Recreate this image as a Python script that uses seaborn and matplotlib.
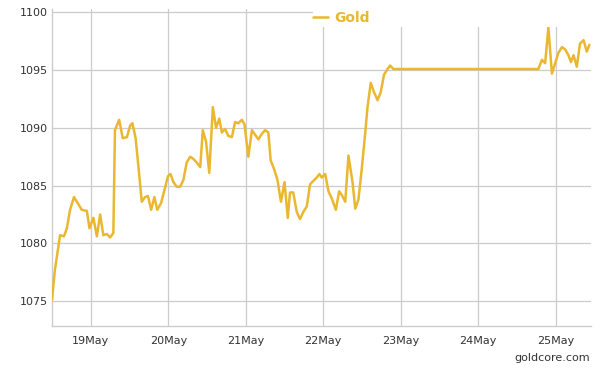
# Gold spot price, 18-25 May (goldcore.com style chart)

import pandas as pd
import matplotlib
matplotlib.use("Agg")
import matplotlib.pyplot as plt
import matplotlib.dates as mdates
from matplotlib.patches import Rectangle
import seaborn as sns

# --- Data (hours since 18 May 00:00, price in USD/oz) ---
HOURS = [
    12.0, 12.9, 14.5, 15.7, 16.6, 17.6, 18.8, 19.7, 21.2, 22.8,
    23.6, 24.8, 25.9, 26.9, 27.9, 29.0, 30.0, 31.0, 31.5, 32.8,
    33.9, 35.2, 36.2, 36.9, 37.9, 38.7, 39.8, 40.8, 41.7, 42.7,
    43.7, 44.6, 45.8, 46.8, 47.9, 48.7, 49.6, 50.6, 51.7, 52.7,
    53.7, 54.8, 55.8, 56.8, 57.9, 58.7, 59.7, 60.7, 61.8, 62.8,
    63.8, 64.6, 65.6, 66.6, 67.7, 68.7, 69.7, 70.8, 71.6, 72.8,
    73.9, 74.9, 75.9, 77.0, 78.0, 79.0, 79.7, 80.8, 81.8, 82.9,
    84.0, 85.0, 85.7, 86.7, 87.8, 88.8, 89.8, 90.9, 91.9, 92.9,
    94.0, 94.8, 95.5, 96.6, 97.6, 98.6, 99.9, 100.9, 101.7, 102.8,
    103.8, 105.1, 105.9, 106.9, 107.9, 109.0, 109.7, 110.7, 111.7, 112.8,
    113.8, 114.8, 115.9, 116.7, 117.7, 162.6, 163.7, 164.7, 165.7, 166.8,
    167.8, 168.8, 169.9, 170.9, 171.9, 172.7, 173.5, 174.5, 175.5, 176.6,
    177.6, 178.4,
]
PRICES = [
    1075.1, 1077.7, 1080.7, 1080.6, 1081.3, 1082.9, 1084.0, 1083.6, 1082.9, 1082.8,
    1081.3, 1082.2, 1080.6, 1082.5, 1080.7, 1080.8, 1080.5, 1080.9, 1089.8, 1090.7,
    1089.1, 1089.2, 1090.2, 1090.4, 1089.1, 1086.8, 1083.6, 1084.0, 1084.1, 1082.9,
    1084.0, 1082.9, 1083.5, 1084.6, 1085.8, 1086.0, 1085.3, 1084.9, 1084.9, 1085.5,
    1087.0, 1087.5, 1087.3, 1087.0, 1086.6, 1089.8, 1088.8, 1086.1, 1091.8, 1090.0,
    1090.8, 1089.6, 1089.9, 1089.3, 1089.2, 1090.5, 1090.4, 1090.7, 1090.3, 1087.5,
    1089.8, 1089.4, 1089.0, 1089.5, 1089.8, 1089.6, 1087.2, 1086.4, 1085.5, 1083.6,
    1085.3, 1082.2, 1084.4, 1084.4, 1082.7, 1082.1, 1082.7, 1083.2, 1085.1, 1085.4,
    1085.7, 1086.0, 1085.7, 1086.0, 1084.5, 1083.9, 1082.9, 1084.5, 1084.2, 1083.6,
    1087.6, 1085.2, 1083.0, 1083.8, 1086.4, 1089.6, 1091.8, 1093.9, 1093.1, 1092.4,
    1093.1, 1094.6, 1095.1, 1095.4, 1095.1, 1095.1, 1095.9, 1095.6, 1098.7, 1094.7,
    1095.6, 1096.5, 1097.0, 1096.8, 1096.3, 1095.7, 1096.3, 1095.3, 1097.3, 1097.6,
    1096.6, 1097.2,
]
Y_TICKS = [1075, 1080, 1085, 1090, 1095, 1100]
SERIES = "Gold"

GOLD = "#EAB830"
GRID = "#CCCCCC"
TEXT = "#333333"

base = pd.Timestamp("2015-05-18")
df = pd.DataFrame({
    "time": base + pd.to_timedelta(HOURS, unit="h"),
    "price": PRICES,
})

sns.set_theme(style="white")
plt.rcParams["font.family"] = ["DejaVu Sans"]

W, H = 605, 370
fig = plt.figure(figsize=(W / 100, H / 100), dpi=100)
ax = fig.add_axes([52 / W, 1 - 326 / H, (591 - 52) / W, (326 - 9) / H])

sns.lineplot(data=df, x="time", y="price", ax=ax, color=GOLD,
             linewidth=1.8, label=SERIES, zorder=3)

ax.set_xlim(base + pd.Timedelta(hours=12), base + pd.Timedelta(hours=178.9))
ax.set_ylim(1072.83, 1100.3)
ax.set_yticks(Y_TICKS)
ax.xaxis.set_major_locator(mdates.DayLocator())
ax.xaxis.set_major_formatter(mdates.DateFormatter("%d%b"))

ax.grid(True, color=GRID, linewidth=0.9)
ax.set_axisbelow(True)
ax.set_xlabel("")
ax.set_ylabel("")
ax.tick_params(axis="both", length=0, labelsize=8, labelcolor=TEXT)
ax.tick_params(axis="x", pad=7)
ax.tick_params(axis="y", pad=3)
for side in ["top", "right"]:
    ax.spines[side].set_visible(False)
for side in ["left", "bottom"]:
    ax.spines[side].set_color(GRID)
    ax.spines[side].set_linewidth(1.0)

# white box behind the legend hides the grid ends at the top right
ax.add_patch(Rectangle((313 / W, 1 - 27 / H), (593 - 313) / W, 27 / H,
                       transform=fig.transFigure, facecolor="white",
                       edgecolor="none", zorder=5, clip_on=False))

leg = ax.legend(loc="center left", bbox_to_anchor=(313 / W, 1 - 18 / H),
                bbox_transform=fig.transFigure, frameon=False,
                borderpad=0, borderaxespad=0, handlelength=1.1,
                handletextpad=0.45, prop={"weight": "bold", "size": 10})
leg.set_zorder(6)
for t in leg.get_texts():
    t.set_color(GOLD)

fig.text(590 / W, 1 - 358 / H, "goldcore.com", ha="right", va="center",
         fontsize=8, color=TEXT)

fig.savefig("out.png", dpi=100)
